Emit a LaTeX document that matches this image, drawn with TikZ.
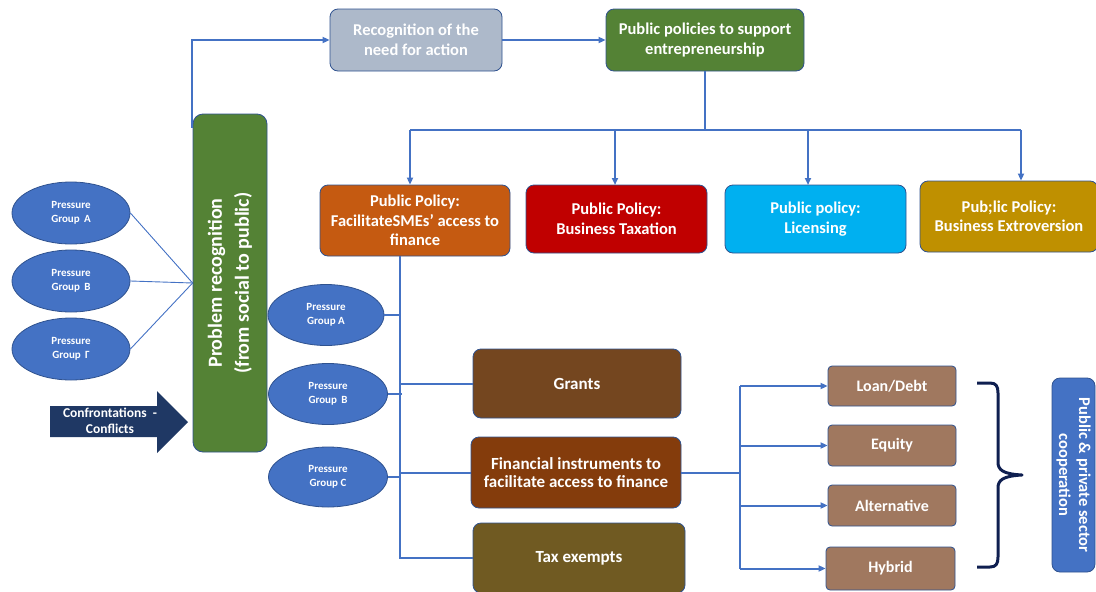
\documentclass[tikz,border=0pt]{standalone}
\usepackage{fontspec}
\setmainfont{Carlito}
\usetikzlibrary{arrows.meta,shapes.geometric}

\definecolor{linkblue}{HTML}{4472C4}
\definecolor{edgeblue}{HTML}{2F528F}
\definecolor{greyblue}{HTML}{ADB9CA}
\definecolor{leafgreen}{HTML}{548235}
\definecolor{burntorange}{HTML}{C55A11}
\definecolor{deepred}{HTML}{C00000}
\definecolor{skyblue}{HTML}{00B0F0}
\definecolor{mustard}{HTML}{BF9000}
\definecolor{navy}{HTML}{1F3864}
\definecolor{bracenavy}{HTML}{0F1F50}
\definecolor{grantbrown}{HTML}{74461F}
\definecolor{rustbrown}{HTML}{843C0C}
\definecolor{olivebrown}{HTML}{705A22}
\definecolor{tanbrown}{HTML}{A0785F}

\tikzset{
  box/.style={draw=edgeblue, line width=0.8pt, rounded corners=8pt, text=white,
    align=center, inner sep=0pt, font=\bfseries\fontsize{16.5}{19.5}\selectfont},
  bigbox/.style={box, font=\bfseries\fontsize{17}{18.5}\selectfont},
  smallbox/.style={box, rounded corners=4pt, font=\bfseries\fontsize{16}{18}\selectfont},
  group/.style={ellipse, draw=edgeblue, line width=0.8pt, fill=linkblue, text=white,
    align=center, inner sep=0pt, font=\bfseries\fontsize{11}{14}\selectfont},
  conn/.style={draw=linkblue, line width=2pt},
  thinconn/.style={draw=linkblue, line width=0.9pt},
  tip/.style={-{Triangle[length=7pt,width=6pt]}},
}

\begin{document}
\begin{tikzpicture}[x=1pt,y=-1pt]
\useasboundingbox (0,0) rectangle (1096,592);

% top row
\node[box, fill=greyblue, minimum width=172pt, minimum height=62pt] (rec) at (416,40)
  {Recognition of the\\need for action};
\node[box, fill=leafgreen, minimum width=198pt, minimum height=62pt] (pps) at (705,40)
  {Public policies to support\\entrepreneurship};

% problem recognition column
\node[box, fill=leafgreen, rounded corners=10pt, minimum width=74pt, minimum height=338pt] (prob) at (230,283) {};
\node[text=white, rotate=90, align=center, font=\bfseries\fontsize{20}{27}\selectfont] (probtxt) at (230,283)
  {Problem recognition\\(from social to public)};

% pressure groups (left)
\node[group, minimum width=118pt, minimum height=62pt] (pA) at (71,213) {Pressure\\Group\, A};
\node[group, minimum width=118pt, minimum height=62pt] (pB) at (71,281) {Pressure\\Group\, B};
\node[group, minimum width=118pt, minimum height=62pt] (pG) at (71,349) {Pressure\\Group\, Γ};

% confrontations arrow
\fill[navy] (50,406) -- (157,406) -- (157,391) -- (188,422) -- (157,453) -- (157,437) -- (50,437) -- cycle;
\node[text=white, align=center, font=\bfseries\fontsize{13.5}{16.5}\selectfont] (conf) at (110,421)
  {Confrontations\ \ -\\Conflicts};

% policy boxes
\node[box, fill=burntorange, minimum width=190pt, minimum height=71pt] (fac) at (415,220.5)
  {Public Policy:\\FacilitateSMEs’ access to\\finance};
\node[box, fill=deepred, minimum width=181pt, minimum height=68pt] (tax) at (616.5,219)
  {Public Policy:\\Business Taxation};
\node[box, fill=skyblue, minimum width=181pt, minimum height=68pt] (lic) at (815.5,219)
  {Public policy:\\Licensing};
\node[box, fill=mustard, minimum width=178pt, minimum height=71pt] (ext) at (1009,216.5)
  {Pub;lic Policy:\\Business Extroversion};

% pressure groups (middle)
\node[group, minimum width=116pt, minimum height=61pt] (qA) at (326,315) {Pressure\\Group A};
\node[group, minimum width=119pt, minimum height=61pt] (qB) at (328,394) {Pressure\\Group\, B};
\node[group, minimum width=119pt, minimum height=60pt] (qC) at (328,477) {Pressure\\Group C};

% instruments
\node[bigbox, fill=grantbrown, minimum width=208pt, minimum height=69pt] (grants) at (577,383.5) {Grants};
\node[bigbox, fill=rustbrown, minimum width=210pt, minimum height=71pt] (fin) at (576,472.5)
  {Financial instruments to\\facilitate access to finance};
\node[bigbox, fill=olivebrown, minimum width=212pt, minimum height=70pt] (texe) at (579,558) {Tax exempts};

% financing types
\node[smallbox, fill=tanbrown, minimum width=128pt, minimum height=40pt] (loan) at (892,386) {Loan/Debt};
\node[smallbox, fill=tanbrown, minimum width=128pt, minimum height=41pt] (equity) at (892,445.5) {Equity};
\node[smallbox, fill=tanbrown, minimum width=128pt, minimum height=41pt] (alt) at (892,505.5) {Alternative};
\node[smallbox, fill=tanbrown, minimum width=129pt, minimum height=43pt] (hyb) at (890.5,568.5) {Hybrid};

% cooperation box
\node[box, fill=linkblue, minimum width=43pt, minimum height=194pt] (ppc) at (1073.5,475) {};
\node[text=white, rotate=-90, align=center, font=\bfseries\fontsize{16.5}{20}\selectfont] (ppctxt) at (1073.5,475)
  {Public \& private sector\\cooperation};

% connectors: top flow
\draw[conn, tip] ([xshift=-1pt, yshift=-14pt]prob.north west) |- (rec.west);
\draw[conn, tip] (rec.east) -- (pps.west);
\coordinate (busmid) at (705,130);
\coordinate (busL) at (410,130);
\coordinate (busR) at (1021,130);
\draw[conn] (pps.south) -- (busmid);
\draw[conn] (busL) -- (busR);
\draw[conn, tip] (busL) -- (busL |- fac.north);
\draw[conn, tip] (615,130) -- (615,185);
\draw[conn, tip] (808,130) -- (808,185);
\draw[conn, tip] (busR) -- (busR |- ext.north);

% pressure groups into problem recognition
\draw[thinconn] (pA.east) -- (prob.west);
\draw[thinconn] (pB.east) -- (prob.west);
\draw[thinconn] (pG.east) -- (prob.west);

% trunk below access-to-finance policy
\coordinate (trunk) at (400,256);
\draw[conn] (trunk) |- (texe.west);
\draw[conn] (trunk |- grants.west) -- (grants.west);
\draw[conn] (trunk |- fin.west) -- (fin.west);
\draw[conn] (qA.east) -- (qA.east -| trunk);
\draw[conn] (qB.east) -- ([xshift=2pt]qB.east -| trunk);
\draw[conn] (qC.east) -- (qC.east -| trunk);

% financial instruments branch
\coordinate (branch) at (740,472.5);
\draw[conn] (fin.east) -- (branch);
\draw[conn] (740,386) -- (740,569);
\draw[conn, tip] (loan.west -| branch) -- (loan.west);
\draw[conn, tip] (equity.west -| branch) -- (equity.west);
\draw[conn, tip] (alt.west -| branch) -- (alt.west);
\draw[conn, tip] (hyb.west -| branch) -- (hyb.west);

% curly brace
\draw[bracenavy, line width=3pt, line join=round]
  (977,383) -- (990,383) .. controls (996,383) and (998,386) .. (998,393)
  -- (998,462) .. controls (998,470) and (1003,474) .. (1022,475)
  .. controls (1003,476) and (998,480) .. (998,488)
  -- (998,557) .. controls (998,564) and (996,567) .. (990,567) -- (977,567);
\end{tikzpicture}
\end{document}
